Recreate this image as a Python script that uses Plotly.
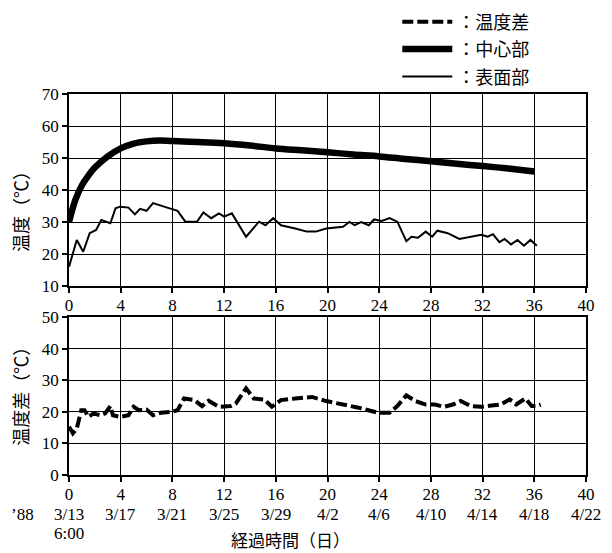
import plotly.graph_objects as go
from plotly.subplots import make_subplots

# ---- data ----
center_x = [0, 0.5, 1, 1.5, 2, 3, 4, 5, 6, 7, 8, 10, 12, 14, 16, 18, 20, 22, 24, 26, 28, 30, 32, 34, 36]
center_y = [30, 37, 41.5, 44.5, 47, 50.5, 53, 54.5, 55.2, 55.5, 55.3, 55.0, 54.6, 53.9, 53.0, 52.4, 51.8, 51.1, 50.5, 49.7, 49.0, 48.2, 47.5, 46.7, 45.8]

surface_x = [0, 0.6, 1.1, 1.6, 2.1, 2.5, 3.2, 3.6, 3.95, 4.6, 5.1, 5.5, 6.0, 6.5, 7.6, 8.4, 9.0, 9.9,
             10.4, 11.0, 11.6, 12.0, 12.6, 13.7, 14.7, 15.2, 15.8, 16.4, 17.5, 18.4, 19.1, 19.9, 21.2,
             21.7, 22.1, 22.6, 23.2, 23.6, 24.2, 24.8, 25.4, 26.1, 26.5, 27.0, 27.6, 28.1, 28.5, 29.3,
             30.2, 31.1, 31.9, 32.4, 32.8, 33.3, 33.7, 34.2, 34.7, 35.2, 35.7, 36.2]
surface_y = [16, 24.4, 20.7, 26.5, 27.5, 30.6, 29.6, 34.3, 34.8, 34.5, 32.4, 34.1, 33.5, 35.9, 34.5, 33.5, 30.1, 30.1,
             33, 31.2, 32.7, 31.7, 32.7, 25.4, 30.1, 29, 31.2, 29, 28, 27, 27, 28, 28.5,
             30, 29, 30, 29, 30.8, 30.3, 31.2, 30.1, 24, 25.4, 25.1, 27, 25.4, 27.3, 26.5,
             24.7, 25.4, 26, 25.4, 26.2, 23.7, 24.7, 23, 24.4, 22.6, 24.4, 22.6]

diff_x = [0, 0.3, 0.6, 0.95, 1.2, 1.5, 1.9, 2.4, 2.8, 3.2, 3.4, 3.95, 4.6, 5.0, 5.4, 6.0, 6.5, 7.1, 7.9,
          8.4, 8.9, 9.7, 10.3, 10.8, 11.6, 12.5, 12.9, 13.7, 14.3, 15.1, 15.7, 16.4, 17.5, 18.8, 19.9,
          21.2, 22.4, 23.9, 24.8, 25.4, 26.1, 26.8, 27.6, 28.3, 29.0, 29.7, 30.3, 31.1, 31.9, 32.7,
          33.4, 34.1, 34.6, 35.3, 35.8, 36.2, 36.5]
diff_y = [15.3, 13.2, 14.7, 20.5, 20.5, 18.4, 19.5, 18.9, 19.5, 21.8, 18.9, 18.4, 18.9, 21.6, 20.5, 20.7, 18.9, 19.7, 20,
          20.5, 24.2, 23.7, 21.8, 23.5, 21.6, 21.8, 22.6, 27.4, 24.2, 23.9, 21.6, 23.7, 24.2, 24.7, 23.4,
          22.3, 21.3, 19.7, 19.7, 21.8, 25.2, 23.4, 22.3, 22.3, 21.6, 22.3, 23.4, 21.8, 21.6, 22,
          22.3, 23.9, 22.3, 24.2, 21.8, 21.8, 22.3]

x_ticks = [0, 4, 8, 12, 16, 20, 24, 28, 32, 36, 40]
date_labels = ["3/13", "3/17", "3/21", "3/25", "3/29", "4/2", "4/6", "4/10", "4/14", "4/18", "4/22"]
top_y_ticks = [10, 20, 30, 40, 50, 60, 70]
bottom_y_ticks = [0, 10, 20, 30, 40, 50]

names = ["：温度差", "：中心部", "：表面部"]

NUM_FONT = "Liberation Serif, Times New Roman, serif"
JP_FONT = "Noto Sans CJK JP"

fig = make_subplots(rows=2, cols=1, shared_xaxes=False, vertical_spacing=0.0)

fig.add_trace(go.Scatter(x=diff_x, y=diff_y, mode="lines", name=names[0], legendgroup="a",
                         line=dict(color="black", width=4, dash="11px,4px")), row=2, col=1)
fig.add_trace(go.Scatter(x=center_x, y=center_y, mode="lines", name=names[1], legendgroup="b",
                         line=dict(color="black", width=6.5, shape="spline")), row=1, col=1)
fig.add_trace(go.Scatter(x=surface_x, y=surface_y, mode="lines", name=names[2], legendgroup="c",
                         line=dict(color="black", width=2)), row=1, col=1)

axis_common = dict(showline=True, linecolor="black", linewidth=1.5, mirror=True,
                   showgrid=True, gridcolor="black", gridwidth=1.3,
                   ticks="outside", ticklen=5, tickcolor="black", tickwidth=1.5,
                   tickfont=dict(family=NUM_FONT, size=17, color="black"), zeroline=False)

fig.update_xaxes(range=[0, 40], tickvals=x_ticks, ticktext=[str(v) for v in x_ticks],
                 ticklabelstandoff=-2, **axis_common)
fig.update_yaxes(**axis_common)
fig.update_yaxes(range=[10, 70], tickvals=top_y_ticks, row=1, col=1)
fig.update_yaxes(range=[0, 50], tickvals=bottom_y_ticks, row=2, col=1)

annotations = [
    dict(text="温度（℃）", xref="paper", yref="paper", x=-0.095, y=0.703, textangle=-90,
         xanchor="center", yanchor="middle", showarrow=False, font=dict(family=JP_FONT, size=18)),
    dict(text="温度差（℃）", xref="paper", yref="paper", x=-0.095, y=0.218, textangle=-90,
         xanchor="center", yanchor="middle", showarrow=False, font=dict(family=JP_FONT, size=18)),
    dict(text="’88", xref="paper", yref="paper", x=-0.116, y=-0.104, xanchor="left", yanchor="middle",
         showarrow=False, font=dict(family=NUM_FONT, size=17)),
    dict(text="6:00", xref="x2", yref="paper", x=0, y=-0.154, xanchor="center", yanchor="middle",
         showarrow=False, font=dict(family=NUM_FONT, size=17)),
    dict(text="経過時間（日）", xref="paper", yref="paper", x=0.4275, y=-0.168, xanchor="center",
         yanchor="middle", showarrow=False, font=dict(family=JP_FONT, size=17)),
]
for xv, d in zip(x_ticks, date_labels):
    annotations.append(dict(text=d, xref="x2", yref="paper", x=xv, y=-0.104, xanchor="center",
                            yanchor="middle", showarrow=False, font=dict(family=NUM_FONT, size=17)))

# page body has an 8px margin, so the figure is drawn 8px smaller and shifted
fig.update_layout(
    width=604, height=545,
    margin=dict(l=61, r=26, t=86, b=78, autoexpand=False),
    plot_bgcolor="white", paper_bgcolor="white",
    yaxis=dict(domain=[0.496, 1.0]),
    yaxis2=dict(domain=[0.0, 0.4147]),
    font=dict(family=JP_FONT, size=16, color="black"),
    showlegend=True,
    legend=dict(x=0.635, y=1.2375, xanchor="left", yanchor="top", traceorder="grouped",
                tracegroupgap=1, itemwidth=50, bgcolor="rgba(0,0,0,0)",
                font=dict(family=JP_FONT, size=18, color="black")),
    annotations=annotations,
)

fig.write_html("out.html")
